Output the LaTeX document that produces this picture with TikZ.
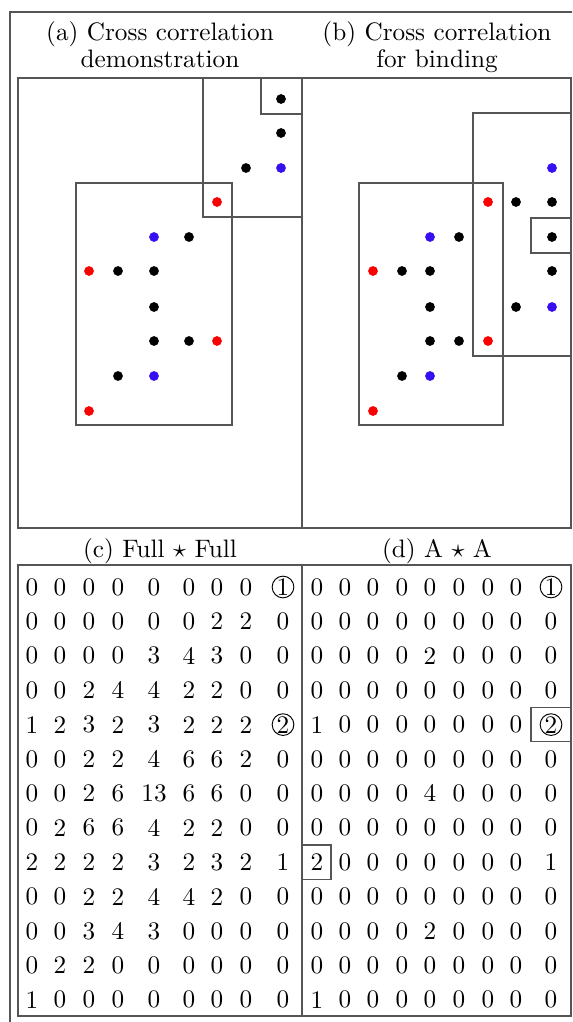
\documentclass[tikz,border=0pt]{standalone}
\definecolor{dotblue}{RGB}{55,15,240}
\definecolor{dotred}{RGB}{250,0,0}
\definecolor{framegray}{RGB}{85,85,85}
\begin{document}
\begin{tikzpicture}[x=0.42pt,y=-0.42pt,
  frame/.style={draw=framegray,line width=0.45pt},
  dotk/.style={circle,fill=black,inner sep=0pt,minimum size=4.1pt},
  dotr/.style={dotk,fill=dotred},
  dotb/.style={dotk,fill=dotblue},
  txt/.style={inner sep=0pt,font=\fontsize{10.6}{12.7}\selectfont},
  ttl/.style={txt,anchor=base},
  cnum/.style={txt,circle,draw,inner sep=0.1pt}]
\useasboundingbox (0,0) rectangle (572,1022);
\clip (0,0) rectangle (572,1022);
% outer frame
\draw[frame] (10,1040) -- (10,12) -- (590,12);
% panel frames
\draw[frame] (18,78) rectangle (571,528);
\draw[frame] (302,78) -- (302,528);
\draw[frame] (18,565) rectangle (571,1016);
\draw[frame] (302,565) -- (302,1016);
% titles
\node[ttl] (ta1) at (160,41) {(a) Cross correlation};
\node[ttl] (ta2) at (160,68) {demonstration};
\node[ttl] (tb1) at (437,41) {(b) Cross correlation};
\node[ttl] (tb2) at (437,68) {for binding};
\node[ttl] (tc) at (160,557) {(c) Full $\star$ Full};
\node[ttl] (td) at (437,557) {(d) A $\star$ A};
% panel (a) windows
\begin{scope}
\clip (18,78) rectangle (302,528);
\draw[frame] (76,183) rectangle (232,425);
\draw[frame] (203,70) rectangle (320,217);
\draw[frame] (261,70) rectangle (320,114);
\end{scope}
% panel (b) windows
\begin{scope}
\clip (302,78) rectangle (571,528);
\draw[frame] (359,183) rectangle (503,425);
\draw[frame] (473,113) rectangle (590,356);
\draw[frame] (531,218) rectangle (590,253);
\end{scope}
% dots (a)
\foreach \x/\y/\s [count=\n] in {281/99/k, 281/133/k, 246/168/k, 281/168/b,
  217/202/r, 154/237/b, 189/237/k, 89/271/r, 118/271/k, 154/271/k,
  154/307/k, 154/341/k, 189/341/k, 217/341/r, 118/376/k, 154/376/b, 89/411/r}
  \node[dot\s] (da\n) at (\x,\y) {};
% dots (b)
\foreach \x/\y/\s [count=\n] in {552/168/b, 488/202/r, 516/202/k, 552/202/k,
  552/237/k, 430/237/b, 459/237/k, 373/271/r, 402/271/k, 430/271/k, 552/271/k,
  430/307/k, 516/307/k, 552/307/b, 430/341/k, 459/341/k, 488/341/r,
  402/376/k, 430/376/b, 373/411/r}
  \node[dot\s] (db\n) at (\x,\y) {};
% matrix (c)
\foreach \row [count=\i from 0] in {
  {0,0,0,0,0,0,0,0,{}},
  {0,0,0,0,0,0,2,2,0},
  {0,0,0,0,3,4,3,0,0},
  {0,0,2,4,4,2,2,0,0},
  {1,2,3,2,3,2,2,2,{}},
  {0,0,2,2,4,6,6,2,0},
  {0,0,2,6,13,6,6,0,0},
  {0,2,6,6,4,2,2,0,0},
  {2,2,2,2,3,2,3,2,1},
  {0,0,2,2,4,4,2,0,0},
  {0,0,3,4,3,0,0,0,0},
  {0,2,2,0,0,0,0,0,0},
  {1,0,0,0,0,0,0,0,0}}{
  \foreach \v [count=\j from 0] in \row {
    \pgfmathsetmacro\xx{{32,60,89,118,154,189,217,246,283}[\j]}
    \node[txt] (c-\i-\j) at (\xx,{587+34.4*\i}) {\v};
  }
}
\node[cnum] (c-0-8o) at (283,587) {1};
\node[cnum] (c-4-8o) at (283,{587+4*34.4}) {2};
% matrix (d)
\foreach \row [count=\i from 0] in {
  {0,0,0,0,0,0,0,0,{}},
  {0,0,0,0,0,0,0,0,0},
  {0,0,0,0,2,0,0,0,0},
  {0,0,0,0,0,0,0,0,0},
  {1,0,0,0,0,0,0,0,{}},
  {0,0,0,0,0,0,0,0,0},
  {0,0,0,0,4,0,0,0,0},
  {0,0,0,0,0,0,0,0,0},
  {2,0,0,0,0,0,0,0,1},
  {0,0,0,0,0,0,0,0,0},
  {0,0,0,0,2,0,0,0,0},
  {0,0,0,0,0,0,0,0,0},
  {1,0,0,0,0,0,0,0,0}}{
  \foreach \v [count=\j from 0] in \row {
    \pgfmathsetmacro\xx{{317,345,373,402,430,459,488,516,551}[\j]}
    \node[txt] (d-\i-\j) at (\xx,{587+34.4*\i}) {\v};
  }
}
\node[cnum] (d-0-8o) at (551,587) {1};
\node[cnum] (d-4-8o) at (551,{587+4*34.4}) {2};
% highlight boxes (d)
\draw[frame] (531,{587+4*34.4-17.2}) rectangle (590,{587+4*34.4+17.2});
\draw[frame] (302,{587+8*34.4-17.2}) rectangle (331,{587+8*34.4+17.2});
\end{tikzpicture}
\end{document}
